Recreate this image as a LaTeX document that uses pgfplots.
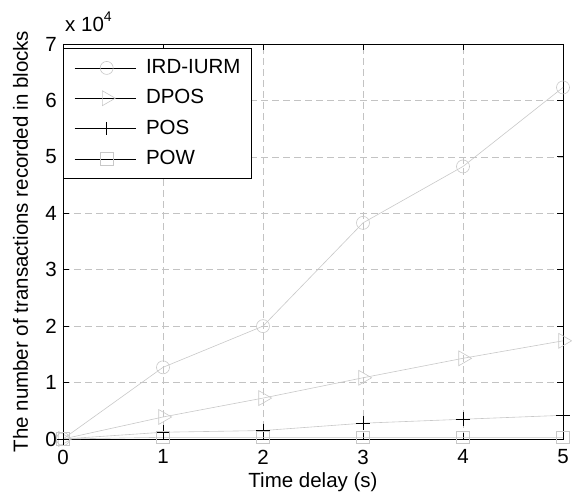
\documentclass[border=0pt]{standalone}
\usepackage{pgfplots}
\pgfplotsset{compat=1.18}
\usepackage{fontspec}
\setmainfont{Liberation Sans}
\definecolor{lg}{RGB}{200,200,200}
\definecolor{gridc}{RGB}{195,195,195}
\begin{document}
\fontsize{20.5}{24}\selectfont
\begin{tikzpicture}
\begin{axis}[
  scale only axis,
  width=500pt, height=395pt,
  at={(0,0)}, anchor=south west,
  xmin=0, xmax=5, ymin=0, ymax=70000,
  xtick={0,1,2,3,4,5},
  xticklabels={0,1,2,3,4,5},
  ytick={0,10000,20000,30000,40000,50000,60000,70000},
  yticklabels={0,1,2,3,4,5,6,7},
  scaled y ticks=false,
  tick align=inside,
  major tick length=6pt,
  axis line style={line width=0.8pt},
  every tick/.style={line width=0.8pt, black},
  xticklabel style={inner sep=0pt, yshift=-10.5pt},
  yticklabel style={inner sep=0pt, xshift=-6pt},
  grid=major,
  grid style={dash pattern=on 7pt off 4pt, color=gridc, line width=0.6pt},
  clip=false,
  xlabel={Time delay (s)},
  ylabel={The number of transactions recorded in blocks},
  every axis x label/.style={at={(axis description cs:0.5,-0.124)}, anchor=base},
  every axis y label/.style={at={(axis description cs:-0.07,0.5)}, anchor=base, rotate=90},
  legend cell align=left,
  legend image code/.code={%
    \draw[black, line width=0.6pt] (0pt,0pt) -- (61pt,0pt);
    \draw[#1] plot[only marks] coordinates {(32pt,0pt)};},
  legend style={at={(axis description cs:0,0.99)}, anchor=north west,
    draw=black, line width=0.8pt, fill=white,
    inner xsep=11pt, inner ysep=11pt,
    nodes={inner sep=0pt},
    row sep=13pt, column sep=10pt,
    font=\fontsize{20.5}{24}\selectfont},
]
\addplot[color=lg, line width=0.6pt, mark=o, mark size=6.5pt, mark options={lg, line width=0.6pt}]
  coordinates {(0,0) (1,12700) (2,20000) (3,38300) (4,48300) (5,62300)};
\addlegendentry{IRD-IURM}
\addplot[color=lg, line width=0.6pt, mark=triangle, mark size=8.6pt, mark options={lg, line width=0.6pt, rotate=-90}]
  coordinates {(0,0) (1,3900) (2,7250) (3,10850) (4,14300) (5,17400)};
\addlegendentry{DPOS}
\addplot[color=lg, line width=0.6pt, mark=+, mark size=6.8pt, mark options={black, line width=0.7pt}]
  coordinates {(0,0) (1,1200) (2,1500) (3,2800) (4,3500) (5,4200)};
\addlegendentry{POS}
\addplot[color=lg, line width=0.6pt, mark=square, mark size=6.3pt, mark options={lg, line width=0.6pt}]
  coordinates {(0,0) (1,300) (2,300) (3,300) (4,300) (5,300)};
\addlegendentry{POW}
\node[anchor=base west, inner sep=0pt, xshift=2pt, yshift=12pt] at (rel axis cs:0,1)
  {x 10\raisebox{0.5em}{\fontsize{14}{14}\selectfont 4}};
\end{axis}
\pgfresetboundingbox
\path[use as bounding box] (-63pt,-59pt) rectangle (509pt,439pt);
\end{tikzpicture}
\end{document}
